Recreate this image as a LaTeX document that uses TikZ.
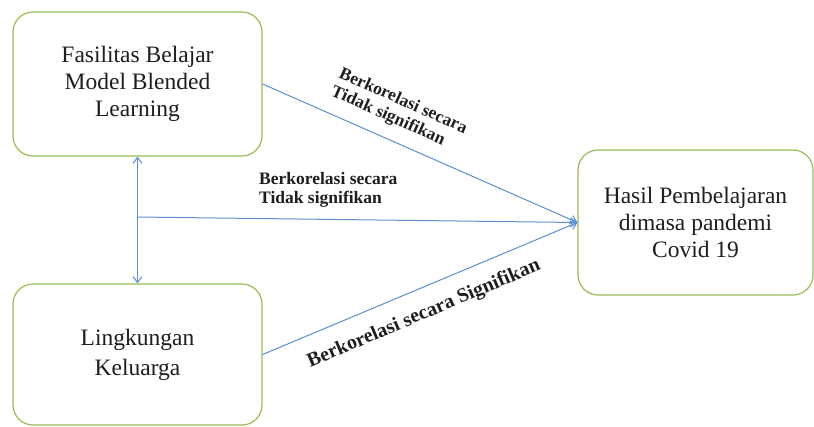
\documentclass[tikz,border=0pt]{standalone}
\usepackage{fontspec}
\setmainfont{Liberation Serif}
\usetikzlibrary{arrows.meta}
\definecolor{boxgreen}{RGB}{155,187,89}
\definecolor{arrblue}{RGB}{91,143,208}
\definecolor{txt}{RGB}{30,30,30}
\begin{document}
\begin{tikzpicture}[x=1pt,y=-1pt,
 box/.style={draw=boxgreen, line width=1.2pt, rounded corners=20pt, fill=white, align=center, text=txt, font=\fontsize{23.5}{27}\selectfont, inner sep=0pt},
 conn/.style={draw=arrblue, line width=1pt},
 tip/.style={-{Straight Barb[length=6pt,width=9pt]}},
 dtip/.style={{Straight Barb[length=6pt,width=9pt]}-{Straight Barb[length=6pt,width=9pt]}},
 lbl/.style={font=\bfseries\fontsize{17.5}{19.5}\selectfont, text=txt, align=left, inner sep=0pt}]
\useasboundingbox (0,0) rectangle (814,426);
\node[box, minimum width=249pt, minimum height=144pt] (b1) at (137.5,84) {Fasilitas Belajar\\Model Blended\\Learning};
\node[box, minimum width=249pt, minimum height=141pt, font=\fontsize{23.5}{30}\selectfont] (b2) at (137.5,354.5) {Lingkungan\\Keluarga};
\node[box, minimum width=235pt, minimum height=145pt] (b3) at (695.5,222.5) {Hasil Pembelajaran\\dimasa pandemi\\Covid 19};
\coordinate (j) at (137.5,217);
\draw[conn, dtip] (b1.south) -- (b2.north);
\draw[conn, tip] (j) -- (b3.west);
\draw[conn, tip] (b1.east) -- (b3.west);
\draw[conn, tip] (b2.east) -- (b3.west);
\node[lbl, anchor=north west] (l1) at (259,172) {Berkorelasi secara\\Tidak signifikan};
\node[lbl, anchor=north west, rotate=-24] (l2) at (343,66) {Berkorelasi secara\\Tidak signifikan};
\node[lbl, font=\bfseries\fontsize{20}{20}\selectfont, rotate=23] (l3) at (424,314) {Berkorelasi secara Signifikan};
\end{tikzpicture}
\end{document}
